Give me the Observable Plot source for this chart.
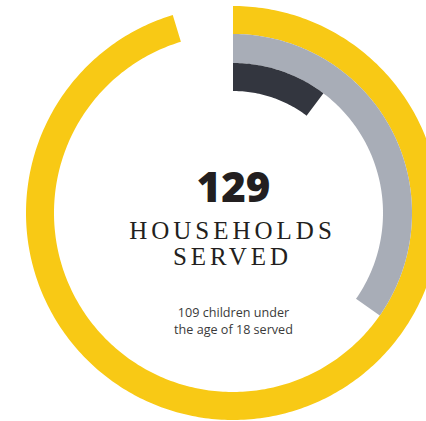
<!DOCTYPE html>
<html>
<head>
<meta charset="utf-8">
<script src="https://cdn.jsdelivr.net/npm/d3@7"></script>
<script src="https://cdn.jsdelivr.net/npm/@observablehq/plot@0.6"></script>
<style>
  html, body { margin: 0; padding: 0; background: #fff; overflow: hidden; }
  #chart svg { display: block; }
</style>
</head>
<body>
<div id="chart"></div>
<script>
// Ring data: share of a full circle (percent)
const rings = ["outer", "middle", "inner"];
const ringValues = [95.3, 34.7, 10.3];
const ringColors = ["#F8C915", "#A8ADB7", "#33363F"];

// Center text
const headline = "129";
const headlineLabel = ["HOUSEHOLDS", "SERVED"];
const noteLines = ["109 children under", "the age of 18 served"];

// Layout (pixel units around the ring centre)
const W = 426, H = 421, cx = 233, cy = 213;
const radii = [[179, 207], [150, 179], [122, 150]];

const arcPts = [];
rings.forEach((name, i) => {
  const end = ringValues[i] / 100 * 2 * Math.PI;
  const n = Math.max(2, Math.ceil(ringValues[i] * 4));
  const [r0, r1] = radii[i];
  for (let k = 0; k <= n; k++) {
    const a = end * k / n;
    arcPts.push({
      ring: name,
      xo: r1 * Math.sin(a), yo: r1 * Math.cos(a),
      xi: r0 * Math.sin(a), yi: r0 * Math.cos(a)
    });
  }
});

const texts = [
  {t: headline, y: 25, size: 42, font: "'Open Sans', sans-serif", weight: 800, fill: "#231F20", cls: "num"},
  {t: headlineLabel[0], y: -17, size: 25, font: "'Liberation Serif', serif", weight: 400, fill: "#231F20", cls: "lab"},
  {t: headlineLabel[1], y: -43, size: 25, font: "'Liberation Serif', serif", weight: 400, fill: "#231F20", cls: "lab"},
  {t: noteLines[0], y: -99, size: 12.6, font: "'Open Sans', sans-serif", weight: 400, fill: "#3a3a3a", cls: "note"},
  {t: noteLines[1], y: -116.2, size: 12.6, font: "'Open Sans', sans-serif", weight: 400, fill: "#3a3a3a", cls: "note"}
];

const plot = Plot.plot({
  width: W, height: H,
  margin: 0,
  x: {domain: [-cx, W - cx], range: [0, W], axis: null},
  y: {domain: [cy - H, cy], range: [H, 0], axis: null},
  color: {domain: rings, range: ringColors},
  marks: [
    Plot.area(arcPts, {x1: "xo", y1: "yo", x2: "xi", y2: "yi", z: "ring", fill: "ring", curve: "linear"}),
    ...texts.map(d => Plot.text([d], {
      x: () => 0, y: "y", text: "t",
      fontSize: d.size, fontFamily: d.font, fontWeight: d.weight,
      fill: d.fill, lineAnchor: "middle", className: d.cls
    }))
  ]
});
d3.select(plot).selectAll(".lab text").attr("letter-spacing", "4px").attr("dx", "-1px");
document.getElementById("chart").appendChild(plot);
</script>
</body>
</html>
